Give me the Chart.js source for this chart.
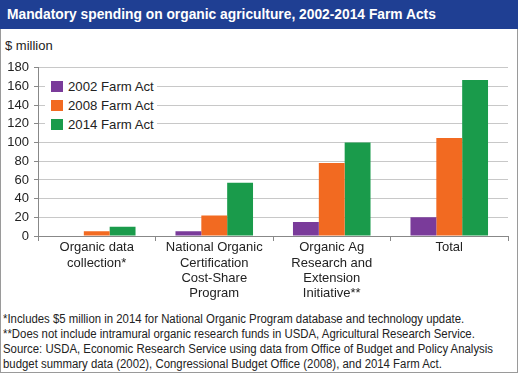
<!DOCTYPE html>
<html>
<head>
<meta charset="utf-8">
<script src="https://cdn.jsdelivr.net/npm/chart.js@4"></script>
<style>
  html, body { margin: 0; padding: 0; background: #fff; }
  body { width: 518px; height: 373px; position: relative; overflow: hidden; font-family: "Liberation Sans", Arial, sans-serif; }
  #frame { position: absolute; left: 0; top: 0; width: 516px; height: 371px; border: 1px solid #9a9a9a; }
  #title { position: absolute; left: 0; top: 0; width: 518px; height: 29px; background: #1f3f93; color: #fff; font-weight: bold; font-size: 13.8px; line-height: 29px; padding-left: 7px; box-sizing: border-box; white-space: nowrap; }
  #unit { position: absolute; left: 5px; top: 38px; font-size: 13px; color: #222; }
  #wrap { position: absolute; left: 0; top: 55px; width: 518px; height: 250px; }
  #legend { position: absolute; left: 45px; top: 76px; width: 112px; background: #fff; padding: 1px 0 1px 6px; box-sizing: border-box; }
  .li { height: 19px; display: flex; align-items: center; font-size: 13.2px; color: #222; white-space: nowrap; }
  .sw { width: 12px; height: 11px; margin-right: 5px; flex: none; }
  #notes { position: absolute; left: 3px; top: 312px; font-size: 12px; line-height: 15px; color: #222; white-space: nowrap; transform-origin: 0 0; }
  #notes span { display: inline-block; }
</style>
</head>
<body>
<div id="frame"></div>
<div id="title">Mandatory spending on organic agriculture, 2002-2014 Farm Acts</div>
<div id="unit">$ million</div>
<div id="wrap"><canvas id="c" width="518" height="250"></canvas></div>
<div id="legend"></div>
<div id="notes">
<span>*Includes $5 million in 2014 for National Organic Program database and technology update.</span><br>
<span>**Does not include intramural organic research funds in USDA, Agricultural Research Service.</span><br>
<span id="ln3">Source: USDA, Economic Research Service using data from Office of Budget and Policy Analysis</span><br>
<span>budget summary data (2002), Congressional Budget Office (2008), and 2014 Farm Act.</span>
</div>
<script>
const categories = [
  ["Organic data", "collection*"],
  ["National Organic", "Certification", "Cost-Share", "Program"],
  ["Organic Ag", "Research and", "Extension", "Initiative**"],
  ["Total"]
];
const seriesNames = ["2002 Farm Act", "2008 Farm Act", "2014 Farm Act"];
const farmAct2002 = [0, 5, 15, 20];
const farmAct2008 = [5, 22, 78, 105];
const farmAct2014 = [10, 57, 100, 167];
const yTicks = [0, 20, 40, 60, 80, 100, 120, 140, 160, 180];
const colors = ["#7a3b9a", "#f26a21", "#1a9b4b"];

const seriesValues = [farmAct2002, farmAct2008, farmAct2014];

// fit footnote width to reference
const ln3 = document.getElementById("ln3");
const w3 = ln3.getBoundingClientRect().width;
if (w3 > 0) document.getElementById("notes").style.transform = "scaleX(" + (490 / w3) + ")";

const legend = document.getElementById("legend");
seriesNames.forEach((n, i) => {
  const d = document.createElement("div");
  d.className = "li";
  d.innerHTML = '<span class="sw" style="background:' + colors[i] + '"></span>' + n;
  legend.appendChild(d);
});

const font = { family: '"Liberation Sans", Arial, sans-serif', size: 13 };
const xFont = { family: '"Liberation Sans", Arial, sans-serif', size: 13, lineHeight: 1.18 };

new Chart(document.getElementById("c"), {
  type: "bar",
  data: {
    labels: categories,
    datasets: seriesNames.map((n, i) => ({
      label: n,
      data: seriesValues[i],
      backgroundColor: colors[i],
      borderWidth: 0,
      barPercentage: 1,
      categoryPercentage: 0.66
    }))
  },
  options: {
    responsive: false,
    animation: false,
    devicePixelRatio: 1,
    layout: { padding: { top: 11, right: 10, left: 0, bottom: 0 } },
    plugins: { legend: { display: false }, tooltip: { enabled: false } },
    scales: {
      x: {
        afterFit: s => { s.height = 69; },
        grid: { drawOnChartArea: false, drawTicks: true, tickLength: 5, color: "#888", offset: true },
        border: { color: "#888", width: 1 },
        ticks: { font: xFont, color: "#222", padding: -1, maxRotation: 0, autoSkip: false }
      },
      y: {
        min: 0, max: 180,
        afterFit: s => { s.width = 38; },
        afterBuildTicks: s => { s.ticks = yTicks.map(v => ({ value: v })); },
        grid: { color: "#c8c8c8", lineWidth: 1, tickLength: 4, tickColor: "#888" },
        border: { color: "#888", width: 1 },
        ticks: { font: font, color: "#222", padding: 5 }
      }
    }
  }
});
</script>
</body>
</html>
